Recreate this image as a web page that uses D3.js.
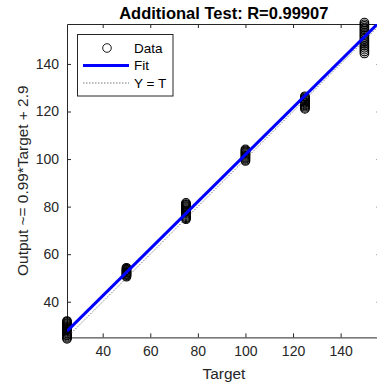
<!DOCTYPE html>
<html>
<head>
<meta charset="utf-8">
<script src="https://cdn.jsdelivr.net/npm/d3@7"></script>
<style>
  html, body { margin: 0; padding: 0; background: #fff; }
  svg { display: block; font-family: "Liberation Sans", Arial, sans-serif; }
</style>
</head>
<body>
<div id="chart"></div>
<script>
// values
const targets = [25, 50, 75, 100, 125, 150];
const out25 = [24.4, 24.9, 25.3, 25.8, 26.1, 26.6, 27, 27.4, 27.8, 28.2, 28.6, 29, 29.4, 29.8, 30.2, 30.6, 31, 31.5, 31.9];
const out50 = [50.5, 50.9, 51.2, 51.5, 51.8, 52.1, 52.3, 52.6, 52.9, 53.2, 53.5, 53.9, 54.3];
const out75 = [74.7, 75.1, 75.5, 76, 76.4, 76.9, 77.3, 77.7, 78.1, 78.5, 79, 79.4, 79.8, 80.2, 80.7, 81.1, 81.6];
const out100 = [99.2, 99.6, 100.1, 100.5, 100.9, 101.3, 101.7, 102.1, 102.5, 102.9, 103.3, 103.7, 104.1];
const out125 = [121.1, 121.5, 122, 122.5, 122.9, 123.4, 123.8, 124.2, 124.7, 125.1, 125.5, 126, 126.4];
const out150 = [144.4, 145.2, 146, 146.8, 147.6, 148.4, 149.2, 149.9, 150.6, 151.3, 152, 152.6, 153.3, 154, 154.6, 155.3, 156, 156.7, 157.4];
const outputs = [out25, out50, out75, out100, out125, out150];
const xTicks = [40, 60, 80, 100, 120, 140];
const yTicks = [40, 60, 80, 100, 120, 140];
const fitSlope = 0.99, fitIntercept = 2.9;
const lim = [25, 156.8];

const W = 377, H = 385;
const axisColor = '#262626';

const points = [];
targets.forEach((t, i) => outputs[i].forEach(o => points.push({ t: t, o: o })));

const x = d3.scaleLinear().domain(lim).range([67, 380.6]);
const y = d3.scaleLinear().domain(lim).range([337.4, 24]);

const svg = d3.select('#chart')
    .append('svg')
    .attr('width', W)
    .attr('height', H);

svg.append('clipPath')
    .attr('id', 'plotClip')
    .append('rect')
    .attr('x', x.range()[0])
    .attr('y', y.range()[1])
    .attr('width', x.range()[1] - x.range()[0])
    .attr('height', y.range()[0] - y.range()[1]);

// axes box
const g = svg.append('g');

const xAxis = g.append('g')
    .attr('transform', `translate(0,${y.range()[0]})`)
    .call(d3.axisBottom(x).tickValues(xTicks).tickSizeInner(-4).tickSizeOuter(0).tickPadding(9));
const yAxis = g.append('g')
    .attr('transform', `translate(${x.range()[0]},0)`)
    .call(d3.axisLeft(y).tickValues(yTicks).tickSizeInner(-4).tickSizeOuter(0).tickPadding(8));
const xTop = g.append('g')
    .attr('transform', `translate(0,${y.range()[1]})`)
    .call(d3.axisTop(x).tickValues(xTicks).tickSizeInner(-4).tickSizeOuter(0).tickFormat(''));
const yRight = g.append('g')
    .attr('transform', `translate(${x.range()[1]},0)`)
    .call(d3.axisRight(y).tickValues(yTicks).tickSizeInner(-4).tickSizeOuter(0).tickFormat(''));

[xAxis, yAxis, xTop, yRight].forEach(a => {
    a.selectAll('path').attr('stroke', axisColor).attr('stroke-width', 1);
    a.selectAll('line').attr('stroke', axisColor).attr('stroke-width', 1);
    a.selectAll('text')
        .attr('fill', axisColor)
        .attr('font-size', 14)
        .attr('font-family', '"Liberation Sans", Arial, sans-serif');
});

// data markers
g.append('g')
    .selectAll('circle')
    .data(points)
    .enter()
    .append('circle')
    .attr('cx', d => x(d.t))
    .attr('cy', d => y(d.o))
    .attr('r', 4.3)
    .attr('fill', 'none')
    .attr('stroke', '#000')
    .attr('stroke-width', 1.1);

// fit line
const line = d3.line().x(d => x(d[0])).y(d => y(d[1]));
g.append('path')
    .datum(lim.map(v => [v, fitSlope * v + fitIntercept]))
    .attr('d', line)
    .attr('clip-path', 'url(#plotClip)')
    .attr('fill', 'none')
    .attr('stroke', '#0000ff')
    .attr('stroke-width', 3);

// Y = T line
g.append('path')
    .datum(lim.map(v => [v, v]))
    .attr('d', line)
    .attr('clip-path', 'url(#plotClip)')
    .attr('fill', 'none')
    .attr('stroke', '#555')
    .attr('stroke-width', 0.8)
    .attr('stroke-dasharray', '1.5,1.5');

// title and labels
svg.append('text')
    .attr('x', (x.range()[0] + x.range()[1]) / 2)
    .attr('y', 19)
    .attr('text-anchor', 'middle')
    .attr('font-size', 16.5)
    .attr('font-weight', 'bold')
    .attr('fill', '#000')
    .text('Additional Test: R=0.99907');

svg.append('text')
    .attr('x', 224)
    .attr('y', 379)
    .attr('text-anchor', 'middle')
    .attr('font-size', 15.4)
    .attr('fill', axisColor)
    .text('Target');

svg.append('text')
    .attr('transform', `translate(28,${(y.range()[0] + y.range()[1]) / 2}) rotate(-90)`)
    .attr('text-anchor', 'middle')
    .attr('font-size', 15.4)
    .attr('fill', axisColor)
    .text('Output ~= 0.99*Target + 2.9');

// legend
const legend = svg.append('g');
legend.append('rect')
    .attr('x', 77.5)
    .attr('y', 34.5)
    .attr('width', 95.5)
    .attr('height', 61.5)
    .attr('fill', '#fff')
    .attr('stroke', axisColor)
    .attr('stroke-width', 1);

const legendItems = ['Data', 'Fit', 'Y = T'];
const legendY = d3.scalePoint().domain(legendItems).range([48, 83]);

legend.append('circle')
    .attr('cx', 107)
    .attr('cy', legendY('Data'))
    .attr('r', 4.3)
    .attr('fill', 'none')
    .attr('stroke', '#000')
    .attr('stroke-width', 0.9);
legend.append('line')
    .attr('x1', 83).attr('x2', 129)
    .attr('y1', legendY('Fit')).attr('y2', legendY('Fit'))
    .attr('stroke', '#0000ff')
    .attr('stroke-width', 3);
legend.append('line')
    .attr('x1', 83).attr('x2', 129)
    .attr('y1', legendY('Y = T')).attr('y2', legendY('Y = T'))
    .attr('stroke', '#555')
    .attr('stroke-width', 0.8)
    .attr('stroke-dasharray', '1.5,1.5');

legend.selectAll('text')
    .data(legendItems)
    .enter()
    .append('text')
    .attr('x', 134)
    .attr('y', d => legendY(d))
    .attr('dy', '0.36em')
    .attr('font-size', 13.5)
    .attr('fill', '#000')
    .text(d => d);
</script>
</body>
</html>
